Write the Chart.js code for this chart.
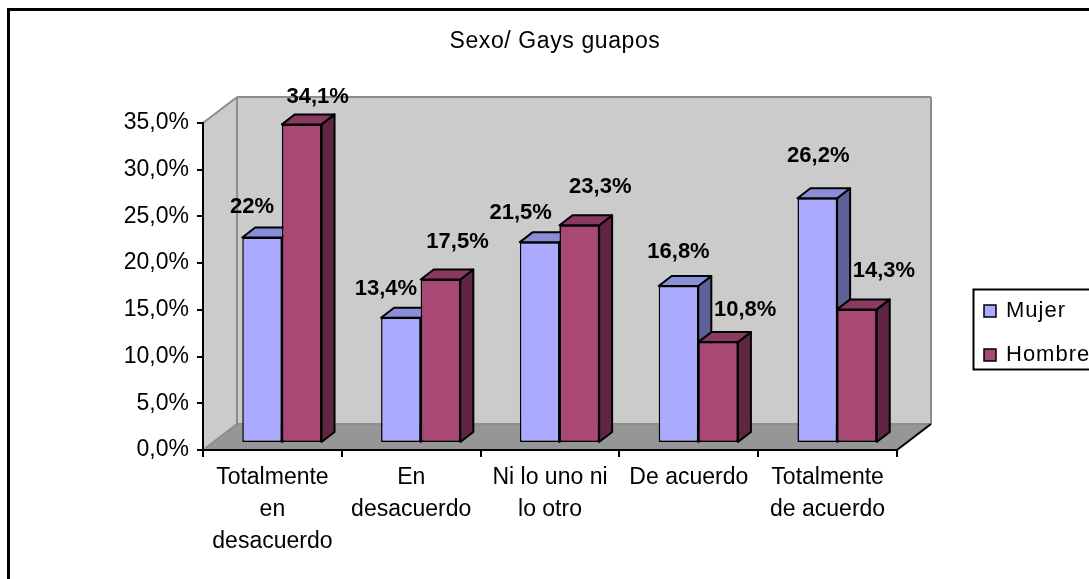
<!DOCTYPE html>
<html><head><meta charset="utf-8">
<script src="https://cdn.jsdelivr.net/npm/chart.js@4/dist/chart.umd.min.js"></script>
<style>html,body{margin:0;padding:0;background:#fff;overflow:hidden}canvas{display:block}</style>
</head><body>
<canvas id="c" width="1089" height="579"></canvas>
<script>
// ---- data ----
const categories = [["Totalmente","en","desacuerdo"],["En","desacuerdo"],["Ni lo uno ni","lo otro"],"De acuerdo",["Totalmente","de acuerdo"]];
const seriesNames = ["Mujer","Hombre"];
const mujer = [22, 13.4, 21.5, 16.8, 26.2];
const hombre = [34.1, 17.5, 23.3, 10.8, 14.3];
const yTicks = [0, 5, 10, 15, 20, 25, 30, 35];
const chartTitle = "Sexo/ Gays guapos";

// ---- styles ----
const FONT = "'Liberation Sans', Arial, sans-serif";
const FRONT = ['#AAAAFF', '#A94874'];
const TOP = ['#8A8ED8', '#8A3A60'];
const SIDE = ['#5E6197', '#5F2542'];
const WALL = '#CBCBCB', FLOOR = '#969696', EDGE = '#8C8C8C';
const DEPTH = {x: 34, y: -26};
const BAR_SHIFT = {x: 9.5, y: -7};
const BAR_DEPTH = {x: 13, y: -10};
const labelNudge = [
  [[-10,-31],[-15,-29],[-19,-29],[0,-34],[1,-42]],
  [[16,-27],[17,-38],[21,-38],[27,-32],[27,-38]]
];

function fmtPct(v){ return Number.isInteger(v) ? v + '%' : v.toFixed(1).replace('.', ',') + '%'; }

function poly(ctx, pts, fill, stroke, lw){
  ctx.beginPath();
  ctx.moveTo(pts[0][0], pts[0][1]);
  for (let i = 1; i < pts.length; i++) ctx.lineTo(pts[i][0], pts[i][1]);
  ctx.closePath();
  if (fill){ ctx.fillStyle = fill; ctx.fill(); }
  if (stroke){ ctx.strokeStyle = stroke; ctx.lineWidth = lw || 2; ctx.stroke(); }
}
function line(ctx, a, b, color, lw){
  ctx.beginPath(); ctx.moveTo(a[0], a[1]); ctx.lineTo(b[0], b[1]);
  ctx.strokeStyle = color; ctx.lineWidth = lw; ctx.stroke();
}

function drawFaces(ctx, meta, di){
  meta.data.forEach(el => {
    const p = el.getProps(['x','y','base','width'], true);
    const l = p.x - p.width/2, r = p.x + p.width/2, t = Math.min(p.y, p.base), b = Math.max(p.y, p.base);
    const bx = BAR_DEPTH.x, by = BAR_DEPTH.y;
    ctx.lineJoin = 'round';
    poly(ctx, [[r,t],[r+bx,t+by],[r+bx,b+by],[r,b]], SIDE[di], '#000', 2);
    poly(ctx, [[l,t],[l+bx,t+by],[r+bx,t+by],[r,t]], TOP[di], '#000', 2);
  });
}

const plot3d = {
  id: 'plot3d',
  beforeDraw(chart){
    const ctx = chart.ctx, a = chart.chartArea;
    ctx.save();
    // outer frame
    ctx.strokeStyle = '#000'; ctx.lineWidth = 3;
    ctx.strokeRect(8.5, 9.5, 1400, 900);
    // title
    ctx.fillStyle = '#000'; ctx.font = '23px ' + FONT;
    ctx.letterSpacing = '0.6px';
    ctx.textAlign = 'center'; ctx.textBaseline = 'alphabetic';
    ctx.fillText(chartTitle, 555, 48);
    ctx.letterSpacing = '0px';
    const L = a.left, R = a.right, T = a.top, B = a.bottom, dx = DEPTH.x, dy = DEPTH.y;
    ctx.fillStyle = WALL;
    ctx.fillRect(L+dx, T+dy, R-L, B-T);
    poly(ctx, [[L,T],[L+dx,T+dy],[L+dx,B+dy],[L,B]], WALL);
    poly(ctx, [[L,B],[L+dx,B+dy],[R+dx,B+dy],[R,B]], FLOOR);
    line(ctx, [L,T], [L+dx,T+dy], EDGE, 2);
    line(ctx, [L+dx,T+dy], [R+dx,T+dy], EDGE, 2);
    line(ctx, [R+dx,T+dy], [R+dx,B+dy], EDGE, 2);
    line(ctx, [L+dx,T+dy], [L+dx,B+dy], EDGE, 2);
    line(ctx, [L+dx,B+dy], [R+dx,B+dy], EDGE, 2);
    line(ctx, [L,B], [L+dx,B+dy], EDGE, 2);
    line(ctx, [R,B], [R+dx,B+dy], '#000', 2);
    ctx.restore();
  },
  beforeDatasetsDraw(chart){
    chart.ctx.save();
    chart.ctx.translate(BAR_SHIFT.x, BAR_SHIFT.y);
  },
  afterDatasetsDraw(chart){
    const ctx = chart.ctx;
    const m0 = chart.getDatasetMeta(0), m1 = chart.getDatasetMeta(1);
    drawFaces(ctx, m0, 0);
    m1.data.forEach(el => el.draw(ctx));
    drawFaces(ctx, m1, 1);
    // value labels
    ctx.fillStyle = '#000'; ctx.font = 'bold 22px ' + FONT;
    ctx.textAlign = 'center'; ctx.textBaseline = 'middle';
    [m0, m1].forEach((m, di) => {
      m.data.forEach((el, i) => {
        const v = chart.data.datasets[di].data[i];
        const n = labelNudge[di][i];
        ctx.fillText(fmtPct(v), el.x + n[0], el.y + n[1]);
      });
    });
    ctx.restore();
  },
  afterDraw(chart){
    const ctx = chart.ctx;
    ctx.save();
    ctx.strokeStyle = '#000'; ctx.lineWidth = 2;
    ctx.strokeRect(973.5, 289.5, 300, 80);
    ctx.font = '22px ' + FONT; ctx.textAlign = 'left'; ctx.textBaseline = 'middle';
    ctx.letterSpacing = '1px';
    chart.data.datasets.forEach((ds, i) => {
      const cy = 311 + i * 44;
      ctx.fillStyle = ds.backgroundColor;
      ctx.fillRect(984, cy - 6, 12, 12);
      ctx.lineWidth = 1.5; ctx.strokeStyle = '#000';
      ctx.strokeRect(984, cy - 6, 12, 12);
      ctx.fillStyle = '#000';
      ctx.fillText(ds.label, 1006, cy);
    });
    ctx.restore();
  }
};

new Chart(document.getElementById('c'), {
  type: 'bar',
  data: {
    labels: categories,
    datasets: [
      { label: seriesNames[0], data: mujer, backgroundColor: FRONT[0], borderColor: '#000', borderWidth: 1.5, borderSkipped: false, categoryPercentage: 0.571, barPercentage: 1 },
      { label: seriesNames[1], data: hombre, backgroundColor: FRONT[1], borderColor: '#000', borderWidth: 1.5, borderSkipped: false, categoryPercentage: 0.571, barPercentage: 1 }
    ]
  },
  options: {
    responsive: false,
    animation: false,
    devicePixelRatio: 1,
    layout: { padding: { left: 0, right: 192, top: 123, bottom: 0 } },
    plugins: { legend: { display: false }, title: { display: false }, tooltip: { enabled: false } },
    scales: {
      x: {
        offset: true,
        afterFit: s => { s.height = 129; },
        grid: { offset: true, drawOnChartArea: false, drawTicks: true, tickLength: 7, color: '#000', lineWidth: 2 },
        border: { display: true, color: '#000', width: 2 },
        ticks: { color: '#000', font: { family: FONT, size: 23, lineHeight: 1.38 }, padding: 5, maxRotation: 0, autoSkip: false }
      },
      y: {
        min: 0, max: 35,
        afterBuildTicks: s => { s.ticks = yTicks.map(v => ({ value: v })); },
        afterFit: s => { s.width = 203; },
        grid: { drawOnChartArea: false, drawTicks: true, tickLength: 6, color: '#000', lineWidth: 2 },
        border: { display: true, color: '#000', width: 2 },
        ticks: { color: '#000', font: { family: FONT, size: 23 }, padding: 8, callback: v => v.toFixed(1).replace('.', ',') + '%' }
      }
    }
  },
  plugins: [plot3d]
});
</script>
</body></html>
